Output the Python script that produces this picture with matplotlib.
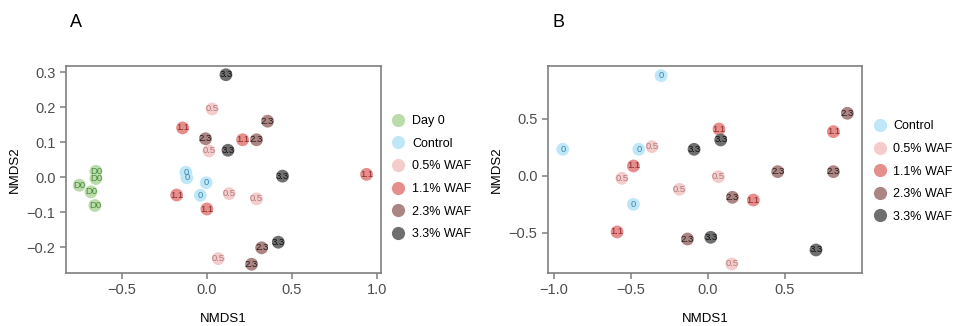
import numpy as np
import matplotlib.pyplot as plt
from matplotlib.lines import Line2D

plt.rcParams['font.family'] = ['Liberation Sans', 'DejaVu Sans']

# Panel A data (NMDS scores)
groups_a = ['Day 0', 'Control', '0.5% WAF', '1.1% WAF', '2.3% WAF', '3.3% WAF']
labels_a = ['D0', '0', '0.5', '1.1', '2.3', '3.3']
x_a = [
    [-0.653, -0.653, -0.751, -0.682, -0.659],
    [-0.124, -0.118, -0.004, -0.039],
    [0.031, 0.012, 0.131, 0.292, 0.067],
    [-0.143, -0.178, 0.000, 0.210, 0.939],
    [-0.008, 0.357, 0.292, 0.322, 0.263],
    [0.112, 0.124, 0.445, 0.420],
]
y_a = [
    [0.017, -0.004, -0.023, -0.042, -0.081],
    [0.014, -0.002, -0.016, -0.052],
    [0.195, 0.075, -0.047, -0.062, -0.233],
    [0.141, -0.051, -0.091, 0.107, 0.008],
    [0.110, 0.160, 0.107, -0.202, -0.249],
    [0.293, 0.077, 0.003, -0.186],
]

# Panel B data
groups_b = ['Control', '0.5% WAF', '1.1% WAF', '2.3% WAF', '3.3% WAF']
labels_b = ['0', '0.5', '1.1', '2.3', '3.3']
x_b = [
    [-0.305, -0.944, -0.450, -0.485],
    [-0.364, -0.560, -0.186, 0.067, 0.154],
    [-0.485, -0.591, 0.071, 0.294, 0.814],
    [-0.134, 0.158, 0.452, 0.814, 0.905],
    [-0.091, 0.082, 0.017, 0.701],
]
y_b = [
    [0.880, 0.234, 0.234, -0.249],
    [0.257, -0.020, -0.117, -0.006, -0.772],
    [0.088, -0.491, 0.412, -0.211, 0.389],
    [-0.553, -0.187, 0.038, 0.038, 0.550],
    [0.234, 0.316, -0.538, -0.649],
]

fill = {'Day 0': '#b9dcaa', 'Control': '#bfe7f8', '0.5% WAF': '#f5cccc',
        '1.1% WAF': '#e68e8b', '2.3% WAF': '#ab8583', '3.3% WAF': '#6f6f6f'}
txt = {'Day 0': '#4d8a3c', 'Control': '#3a87aa', '0.5% WAF': '#b07c7c',
       '1.1% WAF': '#8a2c2c', '2.3% WAF': '#2b1a1a', '3.3% WAF': '#111111'}

fig = plt.figure(figsize=(9.56, 3.26), dpi=100)
ax1 = fig.add_axes([0.069, 0.1626, 0.3295, 0.635])
ax2 = fig.add_axes([0.5732, 0.1626, 0.3285, 0.635])


def draw(ax, groups, labels, xs, ys, anchor_y):
    for g, lab, xx, yy in zip(groups, labels, xs, ys):
        ax.scatter(xx, yy, s=85, color=fill[g], edgecolors='none', zorder=2)
        for x, y in zip(xx, yy):
            ax.text(x, y, lab, fontsize=6.8, color=txt[g], ha='center',
                    va='center', zorder=3)
    for s in ax.spines.values():
        s.set_color('#7f7f7f')
        s.set_linewidth(1.2)
    ax.tick_params(colors='#7f7f7f', labelcolor='#4d4d4d', labelsize=10.5,
                   length=4, width=1.1)
    ax.set_xlabel('NMDS1', fontsize=9.5, labelpad=11)
    ax.set_ylabel('NMDS2', fontsize=9.5, labelpad=4)
    handles = [Line2D([], [], marker='o', linestyle='none', markersize=9.5,
                      markerfacecolor=fill[g], markeredgecolor='none', label=g)
               for g in groups]
    ax.legend(handles=handles, loc='center left', bbox_to_anchor=(1.0, anchor_y),
              frameon=False, fontsize=9, labelspacing=0.85, handletextpad=0.1,
              borderaxespad=0.0)


draw(ax1, groups_a, labels_a, x_a, y_a, 0.46)
ax1.set_xlim(-0.829, 1.024)
ax1.set_ylim(-0.274, 0.318)
ax1.set_xticks([-0.5, 0.0, 0.5, 1.0])
ax1.set_yticks([-0.2, -0.1, 0.0, 0.1, 0.2, 0.3])

draw(ax2, groups_b, labels_b, x_b, y_b, 0.49)
ax2.set_xlim(-1.04, 1.0)
ax2.set_ylim(-0.851, 0.965)
ax2.set_xticks([-1.0, -0.5, 0.0, 0.5])
ax2.set_yticks([-0.5, 0.0, 0.5])

fig.text(0.073, 0.93, 'A', fontsize=13, va='center')
fig.text(0.578, 0.93, 'B', fontsize=13, va='center')

fig.savefig('out.png', dpi=100)
